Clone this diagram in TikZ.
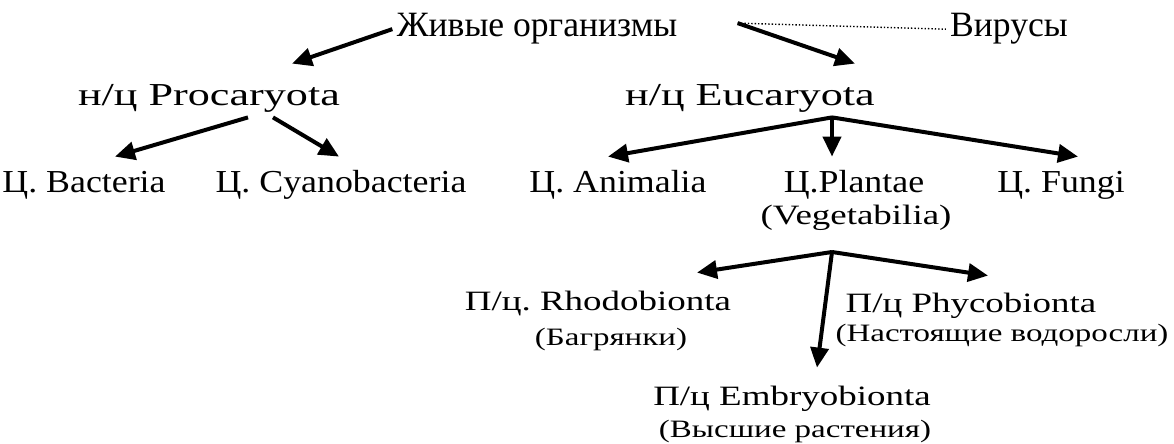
\documentclass[tikz,border=0pt]{standalone}
\usepackage{fontspec}
\setmainfont{Liberation Serif}
\newfontfamily\wideA{Liberation Serif}[FakeStretch=1.12]
\newfontfamily\wideB{Liberation Serif}[FakeStretch=1.32]
\newfontfamily\wideC{Liberation Serif}[FakeStretch=1.38]
\usetikzlibrary{arrows.meta,calc}
\frenchspacing
\tikzset{
  lbl/.style={anchor=base, inner xsep=2pt, inner ysep=2pt},
  root/.style={lbl, font=\fontsize{17.8}{20}\selectfont},
  grp/.style={lbl, font=\wideC\fontsize{16}{18}\selectfont, text height=19pt, text depth=3.5pt},
  king/.style={lbl, font=\wideA\fontsize{16}{19}\selectfont, text height=15.5pt, text depth=4pt},
  sub/.style={lbl, font=\wideB\fontsize{14}{17}\selectfont, text height=16.5pt, text depth=3.5pt},
  gloss/.style={lbl, font=\wideB\fontsize{12.5}{15}\selectfont},
  arr/.style={-{Triangle[length=10pt,width=9pt]}, line width=2pt},
  link/.style={densely dotted, line width=0.7pt}}

\begin{document}
\begin{tikzpicture}[x=0.5pt, y=-0.5pt]
  \useasboundingbox (0,0) rectangle (1174,444);
  % row 1: organisms and viruses
  \node[root] (org) at (537,37) {Живые организмы};
  \node[root] (vir) at (1009,37) {Вирусы};
  % row 2: superkingdoms
  \node[grp] (pro) at (209,106) {н/ц Procaryota};
  \node[grp] (euk) at (750,106) {н/ц Eucaryota};
  % row 3: kingdoms
  \node[king] (bac) at (84,192) {Ц. Bacteria};
  \node[king] (cya) at (341,192) {Ц. Cyanobacteria};
  \node[king] (ani) at (618,192) {Ц. Animalia};
  \node[king] (pla) at (854,192) {Ц.Plantae};
  \node[sub] (veg) at (856,225) {(Vegetabilia)};
  \node[king] (fun) at (1061,192) {Ц. Fungi};
  % row 4-5: subkingdoms of plants
  \node[sub] (rho) at (598,310) {П/ц. Rhodobionta};
  \node[gloss] (bag) at (611,345) {(Багрянки)};
  \node[sub] (phy) at (971,313) {П/ц Phycobionta};
  \node[gloss] (nas) at (1002,342) {(Настоящие водоросли)};
  \node[sub] (emb) at (792,405) {П/ц Embryobionta};
  \node[gloss] (vys) at (795,437) {(Высшие растения)};
  \coordinate (virlink) at ([xshift=28pt,yshift=3pt]org.east);
  \coordinate (eukfork) at ([xshift=41pt]euk.south);
  \coordinate (plafork) at (832,252);
  \draw[arr] (org.west) -- ([xshift=41.5pt]pro.north);
  \draw[arr] (virlink) -- ([xshift=52.5pt]euk.north);
  \draw[link] (virlink) -- (vir.west);
  \draw[arr] ([xshift=19.5pt]pro.south) -- ([xshift=15.5pt]bac.north);
  \draw[arr] ([xshift=32pt]pro.south) -- ([xshift=-1pt]cya.north);
  \draw[arr] (eukfork) -- ([xshift=-5pt]ani.north);
  \draw[arr] (eukfork) -- ([xshift=-11pt]pla.north);
  \draw[arr] (eukfork) -- ([xshift=8.5pt]fun.north);
  \draw[arr] (plafork) -- ([xshift=49.5pt]rho.north);
  \draw[arr] (plafork) -- ([xshift=8.5pt]phy.north);
  \draw[arr] (plafork) -- ([xshift=12.5pt]emb.north);
\end{tikzpicture}
\end{document}
